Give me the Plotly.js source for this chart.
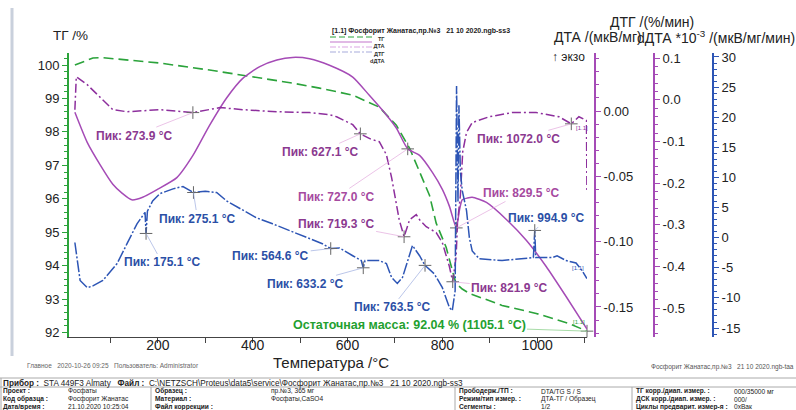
<!DOCTYPE html>
<html><head><meta charset="utf-8">
<script src="https://cdn.plot.ly/plotly-3.0.1.min.js"></script>
<style>html,body{margin:0;padding:0;background:#fff}#chart{width:796px;height:410px}</style>
</head><body><div id="chart"></div>
<script>
// ---------- DATA ----------
const tgT = [25, 63, 84, 204, 309, 379, 484, 541, 562, 611, 667, 703, 731, 758, 773, 787, 808, 825, 829, 842, 857, 926, 998, 1067, 1105.1];
const tgV = [100.0, 100.21, 100.22, 100.06, 99.85, 99.70, 99.46, 99.31, 99.25, 99.10, 98.74, 98.20, 97.51, 96.61, 96.10, 95.27, 94.55, 93.65, 93.47, 93.30, 93.17, 92.81, 92.57, 92.27, 92.04];

const dtaT = [25, 51, 78, 105, 125, 145, 168, 199, 240, 274, 309, 345, 379, 415, 451, 484, 520, 562, 611, 646, 682, 703, 727, 752, 779, 800, 815, 829.5, 836, 842, 853, 863, 893, 935, 977, 1019, 1061, 1105.1];
const dtaV = [-0.001, -0.024, -0.041, -0.056, -0.063, -0.068, -0.066, -0.060, -0.051, -0.034, -0.011, 0.010, 0.025, 0.034, 0.039, 0.041, 0.040, 0.035, 0.026, 0.012, -0.003, -0.013, -0.029, -0.034, -0.047, -0.060, -0.073, -0.0895, -0.076, -0.068, -0.0666, -0.066, -0.070, -0.083, -0.099, -0.119, -0.142, -0.167];

const dtgT = [25, 28, 51, 72, 93, 105, 135, 204, 274, 331, 379, 451, 520, 562, 577, 611, 627, 650, 667, 682, 693, 699, 709, 719.3, 731, 745, 752, 766, 787, 800, 815, 821.9, 829, 832, 838, 843, 851, 863, 899, 947, 998, 1046, 1072, 1088, 1099, 1104, 1105];
const dtgV = [-0.024, 0.055, 0.036, 0.012, -0.012, -0.024, -0.029, -0.024, -0.031, -0.019, -0.024, -0.029, -0.031, -0.036, -0.041, -0.060, -0.082, -0.095, -0.101, -0.132, -0.187, -0.228, -0.288, -0.329, -0.288, -0.276, -0.288, -0.305, -0.319, -0.343, -0.401, -0.437, -0.377, -0.295, -0.230, -0.125, -0.079, -0.055, -0.041, -0.031, -0.031, -0.041, -0.058, -0.041, -0.048, -0.050, -0.223];

const ddtaT = [25, 29, 36, 51, 63, 84, 114, 135, 156, 173, 175.1, 178, 189, 204, 232, 253, 275.1, 300, 324, 345, 373, 408, 442, 478, 514, 547, 564.6, 583, 611, 629, 633.2, 637, 667, 682, 693, 705, 716, 731, 737, 752, 763.5, 783, 800, 815, 821, 827, 830, 833, 835, 838, 842, 851, 857, 863, 878, 926, 962, 992, 994.9, 997, 1032, 1042, 1061, 1082, 1095, 1105];
const ddtaV = [-0.8, -3.3, -7.1, -8.3, -8.0, -7.1, -4.3, -1.0, 2.3, 4.2, 0.7, 4.4, 6.1, 7.3, 8.1, 8.5, 7.5, 7.7, 7.5, 6.1, 4.8, 3.3, 2.3, 1.2, 0.0, -1.0, -1.8, -1.7, -3.0, -3.8, -5.0, -3.8, -3.8, -4.3, -6.6, -7.6, -6.6, -2.5, -1.3, -3.0, -4.6, -6.0, -8.3, -11.6, -12.1, -8.8, 25.2, 6.0, 22.0, 11.0, 7.8, 4.5, 0.0, -2.2, -3.5, -3.8, -3.5, -3.3, 1.2, -3.3, -3.3, -3.0, -3.8, -4.2, -5.5, -6.8];

const dtgPeakT = [273.9, 627.1, 719.3, 821.9, 1072.0];
const dtgPeakV = [-0.031, -0.082, -0.329, -0.437, -0.058];
const dtaPeakT = [727.0, 829.5];
const dtaPeakV = [-0.029, -0.0895];
const ddtaPeakT = [175.1, 275.1, 564.6, 633.2, 763.5, 994.9];
const ddtaPeakV = [0.7, 7.5, -1.8, -5.0, -4.6, 1.2];
const residT = [1105.1];
const residV = [92.04];

const xTicks = [200, 400, 600, 800, 1000];
const tgTicks = [92, 93, 94, 95, 96, 97, 98, 99, 100];
const dtaTicks = [0, -0.05, -0.10, -0.15];
const dtaTickText = ['0.00', '-0.05', '-0.10', '-0.15'];
const dtgTicks = [0.1, 0, -0.1, -0.2, -0.3, -0.4, -0.5];
const dtgTickText = ['0.1', '0.0', '-0.1', '-0.2', '-0.3', '-0.4', '-0.5'];
const ddtaTicks = [30, 25, 20, 15, 10, 5, 0, -5, -10, -15];
const ddtaTickText = ['30', '25', '20', '15', '10', '5', '0', '-5', '-10', '-15'];

// ---------- STYLE / LAYOUT ----------
const W = 796, H = 410, L = 69, R = 60, T = 53, B = 73;
const PW = W - L - R, PH = H - T - B;
const pxX = x => (x - L) / PW;
const pxY = y => (H - B - y) / PH;
const FONT = 'Liberation Sans, Arial, sans-serif';

const C_TG = '#2ba33b', C_DTA = '#a54bb6', C_DTG = '#8d2f9d', C_DDTA = '#2d55b5';
const C_LBL_P = '#8b3990', C_LBL_DTA = '#a64a9f', C_LBL_B = '#2b4fa6';

const traces = [
  {x: tgT, y: tgV, yaxis: 'y', mode: 'lines', line: {color: C_TG, width: 1.6, dash: '10px,5px'}},
  {x: dtaT, y: dtaV, yaxis: 'y2', mode: 'lines', line: {color: C_DTA, width: 1.5, shape: 'spline', smoothing: 0.6}},
  {x: dtgT, y: dtgV, yaxis: 'y3', mode: 'lines', line: {color: C_DTG, width: 1.5, dash: '9px,3px,2px,3px'}},
  {x: ddtaT, y: ddtaV, yaxis: 'y4', mode: 'lines', line: {color: C_DDTA, width: 1.5, dash: '12px,2px,2px,2px'}},
  {x: dtgPeakT, y: dtgPeakV, yaxis: 'y3', mode: 'markers', marker: {symbol: 'cross-thin', size: 9, line: {color: '#666', width: 1}}},
  {x: dtaPeakT, y: dtaPeakV, yaxis: 'y2', mode: 'markers', marker: {symbol: 'cross-thin', size: 9, line: {color: '#666', width: 1}}},
  {x: ddtaPeakT, y: ddtaPeakV, yaxis: 'y4', mode: 'markers', marker: {symbol: 'cross-thin', size: 9, line: {color: '#666', width: 1}}},
  {x: residT, y: residV, yaxis: 'y', mode: 'markers', marker: {symbol: 'cross-thin', size: 9, line: {color: '#666', width: 1}}, cliponaxis: false}
];

const annotations = [];
function peakLabels(ts, vs, yref, offs, color, arrowColor) {
  ts.forEach((t, i) => {
    annotations.push({x: t, y: vs[i], xref: 'x', yref: yref,
      text: '<b>Пик: ' + t.toFixed(1) + ' °C</b>',
      showarrow: true, arrowhead: 0, arrowwidth: 0.7, arrowcolor: arrowColor,
      ax: offs[i][0], ay: offs[i][1], standoff: 0,
      font: {family: FONT, size: 12, color: color}});
  });
}
peakLabels(dtgPeakT, dtgPeakV, 'y3', [[-58, 23], [-40, 18], [-68, -13], [57, 6], [-53, 15]], C_LBL_P, '#e2a9dc');
peakLabels(dtaPeakT, dtaPeakV, 'y2', [[-71, 48], [65, -35]], C_LBL_DTA, '#e2a9dc');
peakLabels(ddtaPeakT, ddtaPeakV, 'y4', [[16, 29], [4, 26], [-60, 7], [-58, 16], [-33, 42], [12, -12]], C_LBL_B, '#9eaee0');
annotations.push({x: residT[0], y: residV[0], xref: 'x', yref: 'y',
  text: '<b>Остаточная масса: ' + residV[0].toFixed(2) + ' % (' + residT[0].toFixed(1) + ' °C)</b>',
  showarrow: true, arrowhead: 0, arrowwidth: 1, arrowcolor: '#a8dca8', ax: -178, ay: -6, standoff: 0,
  font: {family: FONT, size: 12.5, color: '#23a02f'}});

function txt(x, y, text, size, color, anchor, extra) {
  annotations.push(Object.assign({xref: 'paper', yref: 'paper', x: pxX(x), y: pxY(y), text: text,
    showarrow: false, xanchor: anchor || 'left', yanchor: 'middle',
    font: {family: FONT, size: size, color: color || '#222'}}, extra || {}));
}
// axis titles
txt(70, 35, 'ТГ /%', 13.5, '#222', 'center');
txt(652, 22, 'ДТГ /(%/мин)', 14, '#222', 'center');
txt(552, 37, 'ДТА /(мкВ/мг)', 14, '#222', 'left');
txt(797, 37, 'dДТА *10<sup>-3</sup> /(мкВ/мг/мин)', 14, '#222', 'right');
txt(568, 57, '↑ экзо', 12, '#222', 'center');
txt(331, 362, 'Температура /°C', 15, '#222', 'center');
// small [1.1] tags
txt(578, 268, '[1.1]', 6, C_DDTA, 'center');
txt(579, 322, '[1.1]', 6, C_TG, 'center');
txt(582, 128, '[1.1]', 6, C_DTG, 'center');
// legend
txt(330, 31, '<b>[1.1] Фосфорит Жанатас,пр.№3   21 10 2020.ngb-ss3</b>', 7, '#222', 'left');
const legNames = ['ТГ', 'ДТА', 'ДТГ', 'dДТА'];
txt(387, 37, legNames.map(n => '<b>' + n + '</b>').join('<br>'), 5.6, '#333', 'right', {yanchor: 'top', y: pxY(34), align: 'right'});
// footer
txt(25, 365, 'Главное   2020-10-26 09:25   Пользователь: Administrator', 6.5, '#666', 'left');
txt(796, 367, 'Фосфорит Жанатас,пр.№3   21 10 2020.ngb-taa', 6.5, '#555', 'right');
txt(2, 382.5, '<b>Прибор :</b>  STA 449F3 Almaty   <b>Файл :</b>  C:\\NETZSCH\\Proteus\\data5\\service\\Фосфорит Жанатас,пр.№3   21 10 2020.ngb-ss3', 8.2, '#222', 'left', {borderpad: 0});
const rows = [
  ['Проект :', 'Фосфаты', 'Образец :', 'пр.№3, 365 мг', 'Прободерж./ТП :', 'DTA/TG S / S', 'ТГ корр./диап. измер. :', '000/35000 мг'],
  ['Код образца :', 'Фосфорит Жанатас', 'Материал :', 'Фосфаты,CaSO4', 'Режим/тип измер. :', 'ДТА-ТГ / Образец', 'ДСК корр./диап. измер. :', '000/'],
  ['Дата/время :', '21.10.2020 10:25:04', 'Файл коррекции :', '', 'Сегменты :', '1/2', 'Циклы предварит. измер-я :', '0xВак']
];
const colX = [2, 67, 154, 270, 458, 540, 635, 733];
const rowY = [391, 399, 406.5];
rows.forEach((r, ri) => r.forEach((c, ci) => {
  if (c) txt(colX[ci], rowY[ri], ci % 2 === 0 ? '<b>' + c + '</b>' : c, 6.6, '#222', 'left', {borderpad: 0});
}));

const shapes = [];
function pline(x0, y0, x1, y1, color, width, dash) {
  shapes.push({type: 'line', xref: 'paper', yref: 'paper', x0: pxX(x0), y0: pxY(y0), x1: pxX(x1), y1: pxY(y1),
    line: {color: color, width: width, dash: dash || 'solid'}});
}
pline(12, 8, 12, 356, '#c9d0dc', 3);
pline(0, 378, 796, 378, '#aaa', 1);
pline(0, 387, 796, 387, '#aaa', 1);
pline(1, 378, 1, 410, '#aaa', 1);
pline(151, 387, 151, 410, '#aaa', 1);
pline(455, 387, 455, 410, '#aaa', 1);
pline(632, 387, 632, 410, '#aaa', 1);
// legend samples
pline(330, 37, 372, 37, C_TG, 1.2, '6px,3px');
pline(330, 42, 372, 42, '#c377cc', 1.2);
pline(330, 47, 372, 47, '#dba5e3', 1.2, '6px,2px,2px,2px');
pline(330, 52, 372, 52, '#a7acdb', 1.2, '6px,2px,2px,2px');

const tickFont = {family: FONT, size: 13, color: '#222'};
const layout = {
  width: W, height: H, margin: {l: L, r: R, t: T, b: B},
  paper_bgcolor: '#fff', plot_bgcolor: '#fff', showlegend: false,
  xaxis: {domain: [0, 518 / PW], range: [12.6, 1105.1], showline: true, linecolor: '#444', linewidth: 1,
    ticks: 'outside', ticklen: 5, tickcolor: '#444', tickmode: 'array', tickvals: xTicks, tickfont: {family: FONT, size: 14, color: '#222'},
    ticklabelstandoff: -10,
    minor: {ticks: 'outside', ticklen: 5, dtick: 100, tick0: 0, tickcolor: '#444'},
    showgrid: false, zeroline: false},
  yaxis: {range: [91.865, 100.36], showline: true, linecolor: C_TG, linewidth: 2, ticks: 'outside', ticklen: 5,
    tickcolor: C_TG, tickmode: 'array', tickvals: tgTicks, tickfont: tickFont,
    minor: {ticks: 'outside', ticklen: 3, dtick: 0.2, tick0: 92, tickcolor: C_TG},
    showgrid: false, zeroline: false},
  yaxis2: {overlaying: 'y', anchor: 'free', position: pxX(595), side: 'right', range: [-0.173, 0.0444],
    showline: true, linecolor: C_DTA, linewidth: 2, ticks: 'outside', ticklen: 5, tickcolor: C_DTA,
    tickmode: 'array', tickvals: dtaTicks, ticktext: dtaTickText, tickfont: tickFont,
    minor: {ticks: 'outside', ticklen: 3, dtick: 0.01, tick0: 0, tickcolor: C_DTA},
    showgrid: false, zeroline: false},
  yaxis3: {overlaying: 'y', anchor: 'free', position: pxX(654), side: 'right', range: [-0.5696, 0.112],
    showline: true, linecolor: C_DTA, linewidth: 2, ticks: 'outside', ticklen: 5, tickcolor: C_DTA,
    tickmode: 'array', tickvals: dtgTicks, ticktext: dtgTickText, tickfont: tickFont,
    minor: {ticks: 'outside', ticklen: 3, dtick: 0.02, tick0: 0, tickcolor: C_DTA},
    showgrid: false, zeroline: false},
  yaxis4: {overlaying: 'y', anchor: 'free', position: pxX(713), side: 'right', range: [-16.49, 30.66],
    showline: true, linecolor: C_DDTA, linewidth: 2, ticks: 'outside', ticklen: 5, tickcolor: C_DDTA,
    tickmode: 'array', tickvals: ddtaTicks, ticktext: ddtaTickText, tickfont: tickFont,
    minor: {ticks: 'outside', ticklen: 3, dtick: 1, tick0: 0, tickcolor: C_DDTA},
    showgrid: false, zeroline: false},
  annotations: annotations, shapes: shapes
};
Plotly.newPlot('chart', traces, layout, {staticPlot: true, displayModeBar: false});
</script></body></html>
